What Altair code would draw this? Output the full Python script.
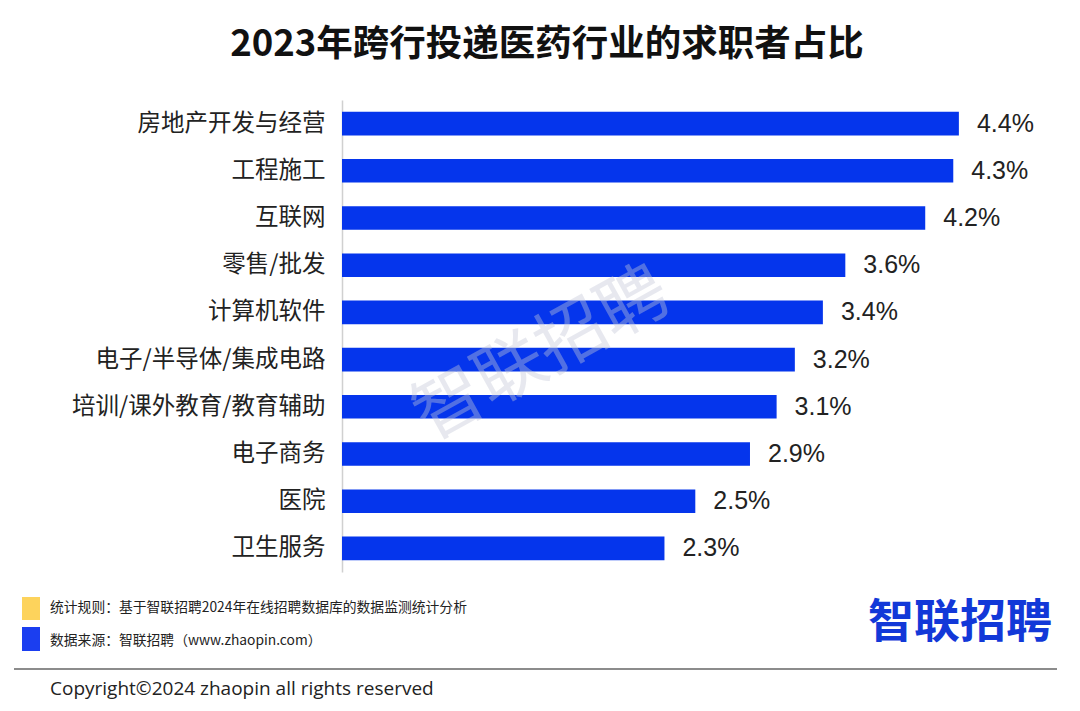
import altair as alt
import pandas as pd

categories = ["房地产开发与经营", "工程施工", "互联网", "零售/批发", "计算机软件",
              "电子/半导体/集成电路", "培训/课外教育/教育辅助", "电子商务", "医院", "卫生服务"]
values = [4.40, 4.36, 4.16, 3.59, 3.43, 3.23, 3.10, 2.91, 2.52, 2.30]
value_labels = ["4.4%", "4.3%", "4.2%", "3.6%", "3.4%", "3.2%", "3.1%", "2.9%", "2.5%", "2.3%"]

title_text = "2023年跨行投递医药行业的求职者占比"
note1 = "统计规则：基于智联招聘2024年在线招聘数据库的数据监测统计分析"
note2 = "数据来源：智联招聘（www.zhaopin.com）"
copyright_text = "Copyright©2024 zhaopin all rights reserved"
logo_text = "智联招聘"
watermark_text = "智联招聘"

BLUE = "#0535ec"
CJK = "Noto Sans CJK SC"

df = pd.DataFrame({"cat": categories, "val": values, "lbl": value_labels})

y_enc = alt.Y("cat:N", sort=categories,
              scale=alt.Scale(paddingInner=0.5, paddingOuter=0.25),
              axis=alt.Axis(title=None, ticks=False, domain=True, domainColor="#d0d0d0",
                            domainWidth=1.5, labelFont=CJK, labelFontSize=23.5,
                            labelColor="#222222", labelPadding=17, labelLimit=400))
x_enc = alt.X("val:Q", scale=alt.Scale(domain=[0, 5], nice=False), axis=None)

bars = alt.Chart(df).mark_bar(color=BLUE).encode(y=y_enc, x=x_enc)
labels = alt.Chart(df).mark_text(align="left", baseline="middle", dx=18, fontSize=25,
                                 font="Liberation Sans", color="#222222").encode(
    y=alt.Y("cat:N", sort=categories), x="val:Q", text="lbl:N")

def txt(s, x, y, **kw):
    return alt.Chart(pd.DataFrame({"t": [s]})).mark_text(**kw).encode(
        text="t:N", x=alt.value(x), y=alt.value(y))

title = txt(title_text, 205, -55, fontSize=36.5, fontWeight="bold", font=CJK,
            color="#111111", align="center", baseline="middle")
watermark = txt(watermark_text, 200, 255, fontSize=70, font=CJK, angle=331,
                color="#c4c8d8", opacity=0.4, align="center", baseline="middle")
t1 = txt(note1, -292, 508, fontSize=13.8, font=CJK, color="#222222", align="left", baseline="middle")
t2 = txt(note2, -292, 541, fontSize=13.8, font=CJK, color="#222222", align="left", baseline="middle")
t3 = txt(copyright_text, -292, 589, fontSize=19, font="Open Sans", color="#222222",
         align="left", baseline="middle")
logo = txt(logo_text, 526, 523, fontSize=46, font=CJK, fontWeight="bold", color="#1238d8",
           align="left", baseline="middle")

sq_df = pd.DataFrame({"k": ["a"]})
sq1 = alt.Chart(sq_df).mark_rect(color="#fdd35c").encode(
    x=alt.value(-320), x2=alt.value(-302), y=alt.value(497), y2=alt.value(520))
sq2 = alt.Chart(sq_df).mark_rect(color="#1b3ef0").encode(
    x=alt.value(-320), x2=alt.value(-302), y=alt.value(527), y2=alt.value(551))
rule = alt.Chart(sq_df).mark_rule(color="#666666", strokeWidth=1.5).encode(
    x=alt.value(-328), x2=alt.value(715), y=alt.value(569))

chart = alt.layer(bars, labels, watermark, title, t1, t2, t3, logo, sq1, sq2, rule).properties(
    width=701, height=472,
    autosize=alt.AutoSizeParams(type="none"),
    padding={"left": 334, "top": 92, "right": 29, "bottom": 129},
    background="white",
).configure_view(stroke=None)

chart.save("out.html", embed_options={"renderer": "svg", "actions": False})
